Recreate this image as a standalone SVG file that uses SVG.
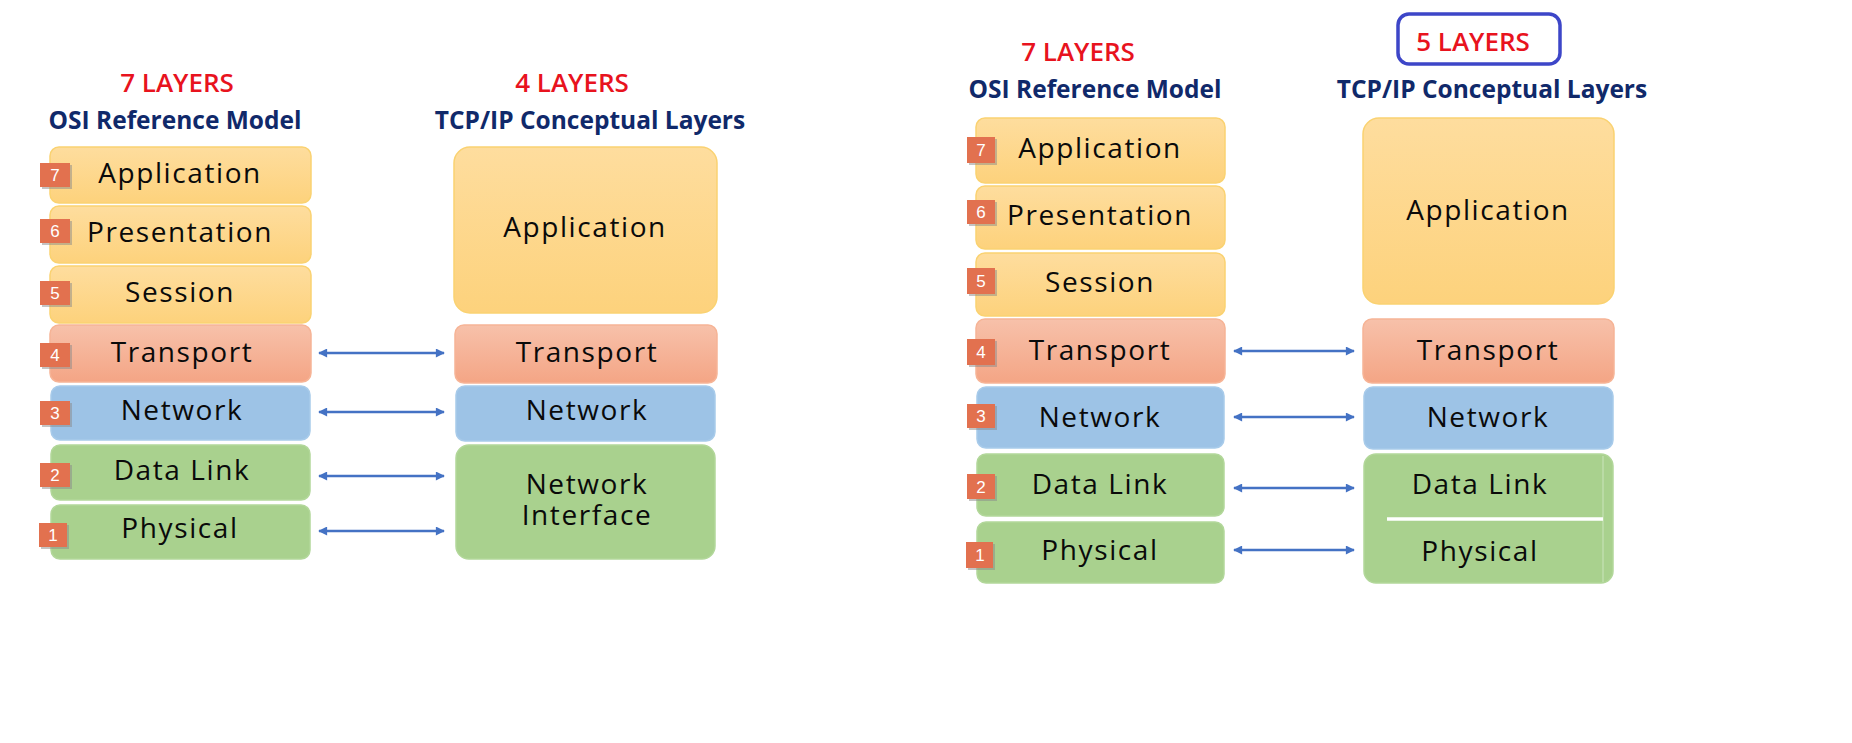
<svg xmlns="http://www.w3.org/2000/svg" width="1852" height="743" viewBox="0 0 1852 743">
<defs>
<linearGradient id="gY" x1="0" y1="0" x2="0" y2="1"><stop offset="0" stop-color="#FEDD9E"/><stop offset="1" stop-color="#FDD27C"/></linearGradient>
<linearGradient id="gO" x1="0" y1="0" x2="0" y2="1"><stop offset="0" stop-color="#F7C1AA"/><stop offset="1" stop-color="#F4A585"/></linearGradient>
<marker id="ah" viewBox="0 0 10 10" refX="9" refY="5" markerWidth="10" markerHeight="9" markerUnits="userSpaceOnUse" orient="auto-start-reverse"><path d="M0,0 L10,5 L0,10 z" fill="#4472C4"/></marker>
</defs>
<style>
.y{fill:url(#gY);stroke:#FAD271;stroke-width:1.5}
.o{fill:url(#gO);stroke:#F6B496;stroke-width:1.5}
.b{fill:#9DC3E6;stroke:#A8CBEA;stroke-width:1.5}
.g{fill:#A9D18E;stroke:#B2D79A;stroke-width:1.5}
.lbl{font-family:"Open Sans",sans-serif;font-size:28px;font-weight:500;fill:#0a0a0a;text-anchor:middle;letter-spacing:1.6px}
.red{font-family:"Open Sans",sans-serif;font-size:26px;font-weight:600;fill:#E8131E;text-anchor:middle}
.hdr{font-family:"Open Sans",sans-serif;font-weight:bold;font-size:24.5px;fill:#10296A;text-anchor:middle}
.bd{fill:#E2714F}
.bs{fill:#8a8a8a;opacity:0.5}
.bn{font-family:"Liberation Sans",Arial,sans-serif;font-size:17px;fill:#fff;text-anchor:middle}
.arr{stroke:#4472C4;stroke-width:2.5;fill:none;marker-start:url(#ah);marker-end:url(#ah)}
</style>
<rect width="1852" height="743" fill="#fff"/>

<g id="headers">
<text class="red" x="177" y="92">7 LAYERS</text>
<text class="hdr" x="175" y="129">OSI Reference Model</text>
<text class="red" x="572" y="92">4 LAYERS</text>
<text class="hdr" x="590" y="129">TCP/IP Conceptual Layers</text>
<text class="red" x="1078" y="61">7 LAYERS</text>
<text class="hdr" x="1095" y="98">OSI Reference Model</text>
<rect x="1398" y="14" width="162" height="50" rx="11" fill="none" stroke="#3D46C8" stroke-width="3.5"/>
<text class="red" x="1473" y="51">5 LAYERS</text>
<text class="hdr" x="1492" y="98">TCP/IP Conceptual Layers</text>
</g>

<!-- Left OSI -->
<g id="osi1-7"><rect class="y" x="50" y="147" width="261" height="56" rx="9"/><rect class="bs" x="42" y="165" width="30" height="24"/><rect class="bd" x="40" y="163" width="30" height="24"/><text class="bn" x="55" y="181">7</text><text class="lbl" x="180" y="183">Application</text></g>
<g id="osi1-6"><rect class="y" x="50" y="206" width="261" height="57" rx="9"/><rect class="bs" x="42" y="221" width="30" height="24"/><rect class="bd" x="40" y="219" width="30" height="24"/><text class="bn" x="55" y="237">6</text><text class="lbl" x="180" y="242">Presentation</text></g>
<g id="osi1-5"><rect class="y" x="50" y="266" width="261" height="57" rx="9"/><rect class="bs" x="42" y="283" width="30" height="24"/><rect class="bd" x="40" y="281" width="30" height="24"/><text class="bn" x="55" y="299">5</text><text class="lbl" x="180" y="302">Session</text></g>
<g id="osi1-4"><rect class="o" x="50" y="325" width="261" height="57" rx="9"/><rect class="bs" x="42" y="345" width="30" height="24"/><rect class="bd" x="40" y="343" width="30" height="24"/><text class="bn" x="55" y="361">4</text><text class="lbl" x="182" y="362">Transport</text></g>
<g id="osi1-3"><rect class="b" x="51" y="386" width="259" height="54" rx="9"/><rect class="bs" x="42" y="403" width="30" height="24"/><rect class="bd" x="40" y="401" width="30" height="24"/><text class="bn" x="55" y="419">3</text><text class="lbl" x="182" y="420">Network</text></g>
<g id="osi1-2"><rect class="g" x="51" y="445" width="259" height="55" rx="9"/><rect class="bs" x="42" y="465" width="30" height="24"/><rect class="bd" x="40" y="463" width="30" height="24"/><text class="bn" x="55" y="481">2</text><text class="lbl" x="182" y="480">Data Link</text></g>
<g id="osi1-1"><rect class="g" x="51" y="505" width="259" height="54" rx="9"/><rect class="bs" x="41" y="525" width="28" height="24"/><rect class="bd" x="39" y="523" width="28" height="24"/><text class="bn" x="53" y="541">1</text><text class="lbl" x="180" y="538">Physical</text></g>

<!-- Left TCP/IP -->
<g id="tcp1-app"><rect class="y" x="454" y="147" width="263" height="166" rx="16"/><text class="lbl" x="585" y="237">Application</text></g>
<g id="tcp1-tr"><rect class="o" x="455" y="325" width="262" height="58" rx="9"/><text class="lbl" x="587" y="362">Transport</text></g>
<g id="tcp1-net"><rect class="b" x="456" y="386" width="259" height="55" rx="9"/><text class="lbl" x="587" y="420">Network</text></g>
<g id="tcp1-ni"><rect class="g" x="456" y="445" width="259" height="114" rx="13"/><text class="lbl" x="587" y="494">Network</text><text class="lbl" x="587" y="525">Interface</text></g>

<!-- Right OSI -->
<g id="osi2-7"><rect class="y" x="976" y="118" width="249" height="65" rx="9"/><rect class="bs" x="969" y="139" width="28" height="26"/><rect class="bd" x="967" y="137" width="28" height="26"/><text class="bn" x="981" y="156">7</text><text class="lbl" x="1100" y="158">Application</text></g>
<g id="osi2-6"><rect class="y" x="976" y="186" width="249" height="63" rx="9"/><rect class="bs" x="969" y="202" width="28" height="24"/><rect class="bd" x="967" y="200" width="28" height="24"/><text class="bn" x="981" y="218">6</text><text class="lbl" x="1100" y="225">Presentation</text></g>
<g id="osi2-5"><rect class="y" x="976" y="253" width="249" height="63" rx="9"/><rect class="bs" x="969" y="270" width="28" height="26"/><rect class="bd" x="967" y="268" width="28" height="26"/><text class="bn" x="981" y="287">5</text><text class="lbl" x="1100" y="292">Session</text></g>
<g id="osi2-4"><rect class="o" x="976" y="319" width="249" height="64" rx="9"/><rect class="bs" x="969" y="341" width="28" height="26"/><rect class="bd" x="967" y="339" width="28" height="26"/><text class="bn" x="981" y="358">4</text><text class="lbl" x="1100" y="360">Transport</text></g>
<g id="osi2-3"><rect class="b" x="977" y="387" width="247" height="61" rx="9"/><rect class="bs" x="969" y="406" width="28" height="24"/><rect class="bd" x="967" y="404" width="28" height="24"/><text class="bn" x="981" y="422">3</text><text class="lbl" x="1100" y="427">Network</text></g>
<g id="osi2-2"><rect class="g" x="977" y="454" width="247" height="62" rx="9"/><rect class="bs" x="969" y="476" width="28" height="25"/><rect class="bd" x="967" y="474" width="28" height="25"/><text class="bn" x="981" y="493">2</text><text class="lbl" x="1100" y="494">Data Link</text></g>
<g id="osi2-1"><rect class="g" x="977" y="522" width="247" height="61" rx="9"/><rect class="bs" x="968" y="544" width="27" height="26"/><rect class="bd" x="966" y="542" width="27" height="26"/><text class="bn" x="980" y="561">1</text><text class="lbl" x="1100" y="560">Physical</text></g>

<!-- Right TCP/IP -->
<g id="tcp2-app"><rect class="y" x="1363" y="118" width="251" height="186" rx="16"/><text class="lbl" x="1488" y="220">Application</text></g>
<g id="tcp2-tr"><rect class="o" x="1363" y="319" width="251" height="64" rx="9"/><text class="lbl" x="1488" y="360">Transport</text></g>
<g id="tcp2-net"><rect class="b" x="1364" y="387" width="249" height="62" rx="9"/><text class="lbl" x="1488" y="427">Network</text></g>
<g id="tcp2-dlph"><rect class="g" x="1364" y="454" width="249" height="129" rx="12"/><line x1="1603" y1="456" x2="1603" y2="582" stroke="#C7E2B5" stroke-width="1.2"/><line x1="1387" y1="519" x2="1603" y2="519" stroke="#fff" stroke-width="3.5"/><text class="lbl" x="1480" y="494">Data Link</text><text class="lbl" x="1480" y="561">Physical</text></g>

<g id="connectors">
<line class="arr" x1="319" y1="353" x2="444" y2="353"/>
<line class="arr" x1="319" y1="412" x2="444" y2="412"/>
<line class="arr" x1="319" y1="476" x2="444" y2="476"/>
<line class="arr" x1="319" y1="531" x2="444" y2="531"/>
<line class="arr" x1="1234" y1="351" x2="1354" y2="351"/>
<line class="arr" x1="1234" y1="417" x2="1354" y2="417"/>
<line class="arr" x1="1234" y1="488" x2="1354" y2="488"/>
<line class="arr" x1="1234" y1="550" x2="1354" y2="550"/>
</g>
</svg>
